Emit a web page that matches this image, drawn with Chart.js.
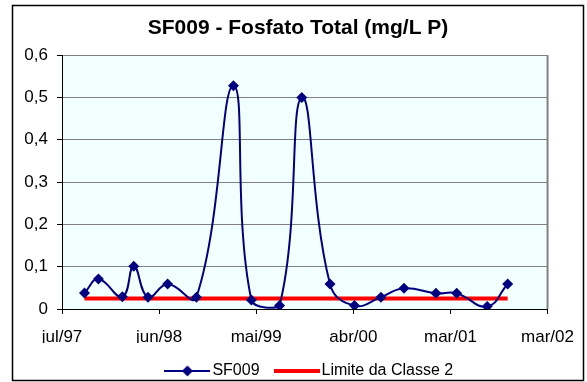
<!DOCTYPE html>
<html>
<head>
<meta charset="utf-8">
<script src="https://cdn.jsdelivr.net/npm/chart.js@4"></script>
<style>
  html, body { margin: 0; padding: 0; background: #fff; }
  #wrap { width: 587px; height: 382px; }
</style>
</head>
<body>
<div id="wrap"><canvas id="chart" width="587" height="382"></canvas></div>
<script>
// sample dates and values
const sampleDates = [
  '1997-09-18', '1997-11-06', '1998-01-29', '1998-03-10', '1998-04-29',
  '1998-07-07', '1998-10-16', '1999-02-23', '1999-04-27', '1999-08-04',
  '1999-10-21', '2000-01-28', '2000-04-23', '2000-07-25', '2000-10-14',
  '2001-02-03', '2001-04-17', '2001-08-02', '2001-10-13',
];
const sf009 = [
  0.038, 0.071, 0.029, 0.101, 0.028,
  0.059, 0.028, 0.528, 0.021, 0.008,
  0.5, 0.059, 0.008, 0.028, 0.049,
  0.037, 0.037, 0.006, 0.059,
];
const limiteClasse2 = [
  0.025, 0.025, 0.025, 0.025, 0.025,
  0.025, 0.025, 0.025, 0.025, 0.025,
  0.025, 0.025, 0.025, 0.025, 0.025,
  0.025, 0.025, 0.025, 0.025,
];
const xTickLabels = ['jul/97', 'jun/98', 'mai/99', 'abr/00', 'mar/01', 'mar/02'];
const yTickLabels = ['0', '0,1', '0,2', '0,3', '0,4', '0,5', '0,6'];

// Excel date axis: starts jul/97, major unit 341 days
const axisStart = '1997-07-01';
const axisStepDays = 341;

const dayOf = (s) => (Date.parse(s) - Date.parse(axisStart)) / 86400000;
const toPoints = (vals) => vals.map((v, i) => ({ x: dayOf(sampleDates[i]), y: v }));

Chart.defaults.font.family = '"Liberation Sans", Arial, sans-serif';
Chart.defaults.color = '#000';

// legend swatches: line with diamond, plain thick line
function lineSwatch(color, width, diamond) {
  const c = document.createElement('canvas');
  c.width = 46;
  c.height = 14;
  const g = c.getContext('2d');
  g.strokeStyle = color;
  g.lineWidth = width;
  g.beginPath();
  g.moveTo(0, 7);
  g.lineTo(46, 7);
  g.stroke();
  if (diamond) {
    g.fillStyle = color;
    g.beginPath();
    g.moveTo(23, 1.5);
    g.lineTo(28.5, 7);
    g.lineTo(23, 12.5);
    g.lineTo(17.5, 7);
    g.closePath();
    g.fill();
  }
  return c;
}
const swatches = [lineSwatch('#000080', 2, true), lineSwatch('#FF0000', 4, false)];

const frame = {
  id: 'frame',
  afterLayout(chart) {
    // excel centres the legend a bit right of the plot area
    chart.legend.left += 7;
    chart.legend.right += 7;
  },
  beforeDraw(chart) {
    const { ctx, chartArea: a } = chart;
    ctx.save();
    ctx.fillStyle = '#fff';
    ctx.fillRect(0, 0, chart.width, chart.height);
    ctx.fillStyle = '#F2FFFF';
    ctx.fillRect(a.left, a.top, a.right - a.left, a.bottom - a.top);
    ctx.strokeStyle = '#808080';
    ctx.lineWidth = 2;
    ctx.beginPath();
    ctx.moveTo(a.right, a.top);
    ctx.lineTo(a.right, a.bottom);
    ctx.stroke();
    ctx.restore();
  },
  afterDraw(chart) {
    const { ctx } = chart;
    ctx.save();
    ctx.strokeStyle = '#000';
    ctx.lineWidth = 1.5;
    ctx.strokeRect(12.5, 5.5, 571, 375);
    ctx.restore();
  },
};

new Chart(document.getElementById('chart'), {
  type: 'line',
  data: {
    datasets: [
      {
        label: 'SF009',
        data: toPoints(sf009),
        borderColor: '#000080',
        backgroundColor: '#000080',
        borderWidth: 2,
        pointStyle: 'rectRot',
        pointRadius: 5.5,
        pointBorderWidth: 0,
        tension: 0.45,
      },
      {
        label: 'Limite da Classe 2',
        data: toPoints(limiteClasse2),
        borderColor: '#FF0000',
        backgroundColor: '#FF0000',
        borderWidth: 4,
        pointRadius: 0,
        tension: 0,
      },
    ],
  },
  options: {
    responsive: false,
    animation: false,
    layout: { padding: { top: 0, left: 9, right: 0, bottom: -7 } },
    scales: {
      x: {
        type: 'linear',
        min: 0,
        max: axisStepDays * 5,
        afterFit: (s) => { s.height = 34; },
        ticks: {
          stepSize: axisStepDays,
          padding: 13,
          font: { size: 17 },
          color: '#000',
          maxRotation: 0,
          autoSkip: false,
          callback: (v, i) => xTickLabels[i],
        },
        grid: { drawOnChartArea: false, drawTicks: true, tickLength: 5, tickColor: '#000' },
        border: { color: '#000', width: 1 },
      },
      y: {
        min: 0,
        max: 0.6,
        afterFit: (s) => { s.width = 53; },
        ticks: {
          stepSize: 0.1,
          padding: 9,
          font: { size: 17 },
          color: '#000',
          callback: (v, i) => yTickLabels[i],
        },
        grid: { color: '#808080', lineWidth: 1, tickLength: 5, tickColor: '#000' },
        border: { color: '#000', width: 1 },
      },
      // empty right gutter so the title centres on the whole frame
      gutter: {
        position: 'right',
        min: 0,
        max: 1,
        afterFit: (s) => { s.width = 34; },
        ticks: { display: false },
        grid: { display: false, drawTicks: false },
        border: { display: false },
      },
    },
    plugins: {
      title: {
        display: true,
        text: 'SF009 - Fosfato Total (mg/L P)',
        color: '#000',
        font: { size: 21, weight: 'bold' },
        padding: { top: 15.5, bottom: 14.5 },
      },
      legend: {
        position: 'bottom',
        fullSize: false,
        labels: {
          usePointStyle: true,
          pointStyleWidth: 34,
          padding: 20,
          color: '#000',
          font: { size: 16 },
          generateLabels(chart) {
            const items = Chart.defaults.plugins.legend.labels.generateLabels(chart);
            items.forEach((it) => { it.pointStyle = swatches[it.datasetIndex]; });
            return items;
          },
        },
      },
      tooltip: { enabled: false },
    },
  },
  plugins: [frame],
});
</script>
</body>
</html>
